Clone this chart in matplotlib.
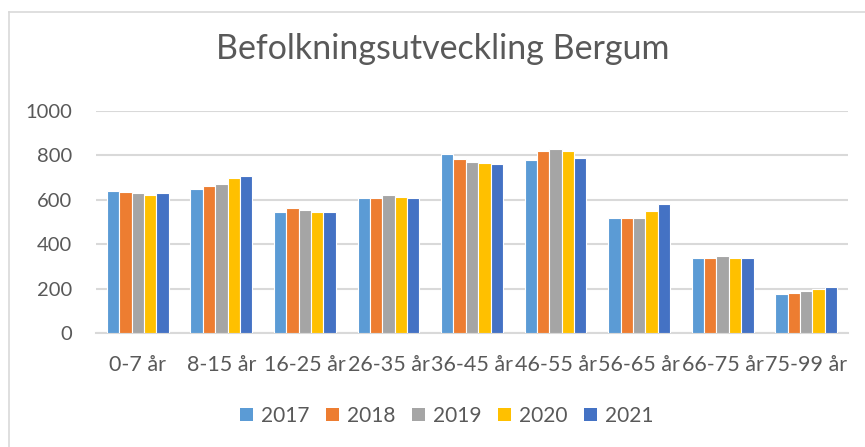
"""Befolkningsutveckling Bergum - grouped bar chart per age group and year.
"""
import numpy as np
import matplotlib.pyplot as plt
from matplotlib.lines import Line2D
from matplotlib.patches import Patch

plt.rcParams['font.family'] = ['Lato', 'DejaVu Sans']

# data
age_groups = ['0-7 år', '8-15 år', '16-25 år', '26-35 år', '36-45 år',
              '46-55 år', '56-65 år', '66-75 år', '75-99 år']
years = ['2017', '2018', '2019', '2020', '2021']
v2017 = [639, 648, 544, 606, 805, 781, 520, 336, 174]
v2018 = [634, 663, 564, 610, 786, 822, 519, 340, 180]
v2019 = [631, 672, 555, 621, 772, 829, 520, 348, 189]
v2020 = [622, 699, 544, 613, 768, 820, 549, 340, 196]
v2021 = [630, 705, 544, 606, 762, 790, 582, 340, 205]
series = [v2017, v2018, v2019, v2020, v2021]
colors = ['#5B9BD5', '#ED7D31', '#A5A5A5', '#FFC000', '#4472C4']

text_col = '#595959'
grid_col = '#D9D9D9'

fig = plt.figure(figsize=(8.65, 4.47), dpi=100)
ax = fig.add_axes([96 / 865, 1 - 333 / 447, 752 / 865, 222 / 447])

x = np.arange(len(age_groups))
w = 0.148
for i, (vals, c) in enumerate(zip(series, colors)):
    ax.bar(x + (i - 2) * w, vals, w, color=c, edgecolor='white',
           linewidth=0.8, zorder=3)

ax.set_xlim(-0.5, len(age_groups) - 0.5)
ax.set_ylim(0, 1000)
ax.set_yticks(range(0, 1001, 200))
ax.set_xticks(x)
ax.set_xticklabels(age_groups)
ax.tick_params(axis='both', length=0, labelsize=14.5, colors=text_col)
ax.tick_params(axis='x', pad=16, labelsize=15.5)
ax.tick_params(axis='y', pad=17)
ax.yaxis.grid(True, color=grid_col, linewidth=1.5, zorder=0)
for s in ['top', 'right', 'left']:
    ax.spines[s].set_visible(False)
ax.spines['bottom'].set_color(grid_col)
ax.spines['bottom'].set_linewidth(1.5)

fig.text(443 / 865, 1 - 49 / 447, 'Befolkningsutveckling Bergum',
         ha='center', va='center', fontsize=24.5, color=text_col)

handles = [Patch(facecolor=c, label=y) for c, y in zip(colors, years)]
fig.legend(handles=handles, loc='center', bbox_to_anchor=(447 / 865, 1 - 416 / 447),
           ncol=5, frameon=False, fontsize=15, labelcolor=text_col,
           handlelength=0.6, handleheight=0.6, handletextpad=0.4,
           columnspacing=0.8)

# partial chart-area border (left and top visible)
fig.add_artist(Line2D([9 / 865, 9 / 865], [0, 1 - 12 / 447], transform=fig.transFigure,
                      color=grid_col, linewidth=1.2))
fig.add_artist(Line2D([9 / 865, 1], [1 - 12 / 447, 1 - 12 / 447], transform=fig.transFigure,
                      color=grid_col, linewidth=1.2))

fig.savefig('out.png', dpi=100)
